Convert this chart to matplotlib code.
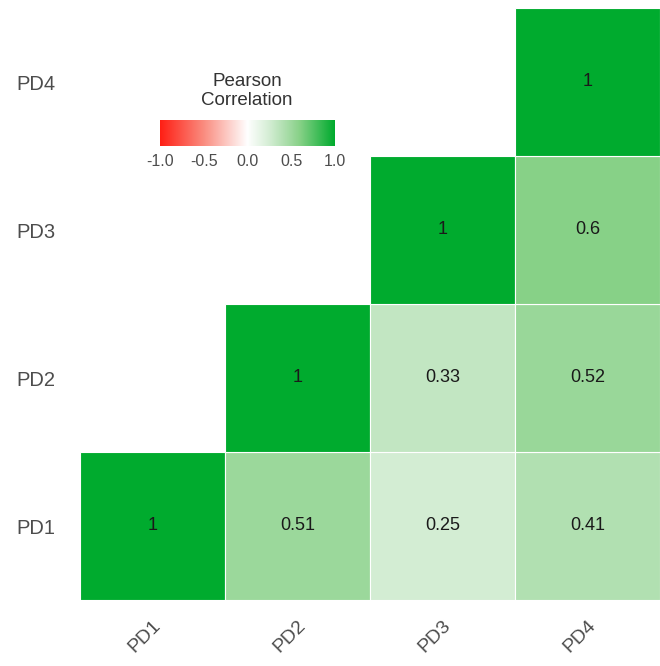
import numpy as np
import matplotlib
matplotlib.use("Agg")
import matplotlib.pyplot as plt
from matplotlib.colors import LinearSegmentedColormap

# Upper-triangle Pearson correlations between the four PD variables
labels = ["PD1", "PD2", "PD3", "PD4"]
corr = np.array([
    [1.00, 0.51, 0.25, 0.41],
    [0.51, 1.00, 0.33, 0.52],
    [0.25, 0.33, 1.00, 0.60],
    [0.41, 0.52, 0.60, 1.00],
])
cell_text = [
    ["1", "0.51", "0.25", "0.41"],
    ["0.51", "1", "0.33", "0.52"],
    ["0.25", "0.33", "1", "0.6"],
    ["0.41", "0.52", "0.6", "1"],
]
cbar_ticks = [-1.0, -0.5, 0.0, 0.5, 1.0]

plt.rcParams["font.family"] = ["Liberation Sans", "DejaVu Sans"]

# red - white - green diverging scale
cmap = LinearSegmentedColormap.from_list("pearson", [
    (0.00, (1.00, 0.12, 0.08)),
    (0.25, (0.98, 0.55, 0.50)),
    (0.50, (1.00, 1.00, 1.00)),
    (0.625, (0.83, 0.93, 0.83)),
    (0.75, (0.62, 0.85, 0.62)),
    (0.80, (0.53, 0.82, 0.53)),
    (1.00, (0.00, 0.67, 0.18)),
])

fig = plt.figure(figsize=(6.6, 6.66), dpi=100)
ax = fig.add_axes([80 / 660, 66 / 666, 580 / 660, 592 / 666])

n = len(labels)
for i in range(n):          # row (y)
    for j in range(n):      # column (x)
        if j < i:
            continue
        v = corr[i, j]
        ax.add_patch(plt.Rectangle((j, i), 1, 1, facecolor=cmap((v + 1) / 2),
                                   edgecolor="white", linewidth=0.8))
        ax.text(j + 0.5, i + 0.5, cell_text[i][j], ha="center", va="center",
                fontsize=13, color="#1a1a1a")

ax.set_xlim(0, n)
ax.set_ylim(0, n)
ax.set_xticks(np.arange(n) + 0.5)
ax.set_yticks(np.arange(n) + 0.5)
ax.set_xticklabels(labels, rotation=45, ha="right", rotation_mode="anchor",
                   fontsize=14, color="#4d4d4d")
ax.set_yticklabels(labels, fontsize=14.5, color="#4d4d4d")
ax.tick_params(length=0)
ax.tick_params(axis="y", pad=18)
ax.tick_params(axis="x", pad=12)
for s in ax.spines.values():
    s.set_visible(False)

# colour legend
cax = fig.add_axes([160 / 660, (666 - 146) / 666, 175 / 660, 26 / 666])
grad = np.linspace(-1, 1, 256)[None, :]
cax.imshow(grad, cmap=cmap, vmin=-1, vmax=1, aspect="auto",
           extent=[-1, 1, 0, 1])
cax.set_yticks([])
cax.set_xticks(cbar_ticks)
cax.set_xticklabels([f"{t:.1f}" for t in cbar_ticks], fontsize=11.5,
                    color="#4d4d4d")
cax.tick_params(length=0, pad=6)
for s in cax.spines.values():
    s.set_visible(False)
fig.text(247 / 660, (666 - 91) / 666, "Pearson\nCorrelation", ha="center",
         va="center", fontsize=13.5, color="#333333", linespacing=1.2)

fig.savefig("out.png", dpi=100)
